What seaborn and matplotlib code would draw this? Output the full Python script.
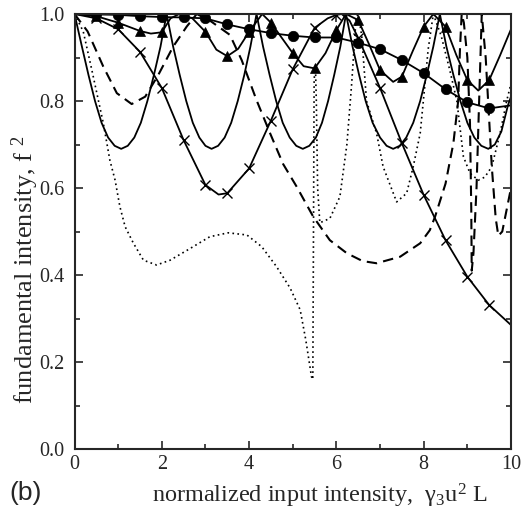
import matplotlib
matplotlib.use("Agg")
import matplotlib.pyplot as plt
import seaborn as sns

# plain solid curve
x_solid = [0.0, 0.17, 0.32, 0.47, 0.62, 0.77, 0.92, 1.07, 1.22, 1.37, 1.52, 1.67, 1.82, 1.97, 2.11,
           2.26, 2.41, 2.56, 2.71, 2.86, 3.0, 3.14, 3.29, 3.44, 3.59, 3.74, 3.89, 4.03, 4.17,
           4.32, 4.47, 4.62, 4.77, 4.93, 5.08, 5.23, 5.38, 5.53, 5.67, 5.81, 5.95, 6.09, 6.22,
           6.37, 6.52, 6.67, 6.83, 7.0, 7.15, 7.30, 7.45, 7.6, 7.76, 7.92, 8.07, 8.22, 8.37,
           8.52, 8.68, 8.84, 9.0, 9.16, 9.32, 9.48, 9.63, 9.78, 9.93, 10.0]
y_solid = [1.0, 0.925, 0.86, 0.80, 0.75, 0.716, 0.697, 0.69, 0.697, 0.716, 0.75, 0.80, 0.86, 0.925, 1.0,
           0.925, 0.86, 0.80, 0.75, 0.716, 0.697, 0.69, 0.697, 0.716, 0.75, 0.80, 0.86, 0.925, 1.0,
           0.925, 0.86, 0.80, 0.75, 0.716, 0.697, 0.69, 0.697, 0.716, 0.75, 0.80, 0.86, 0.925, 1.0,
           0.925, 0.86, 0.80, 0.75, 0.716, 0.697, 0.69, 0.697, 0.716, 0.75, 0.80, 0.86, 0.925, 1.0,
           0.925, 0.86, 0.80, 0.75, 0.716, 0.697, 0.69, 0.70, 0.73, 0.79, 0.81]

# solid with crosses
x_cross = [0.0, 0.5, 1.0, 1.5, 2.0, 2.5, 3.0, 3.3, 3.5, 4.0, 4.5, 5.0, 5.5, 5.8,
           6.0, 6.12, 6.3, 6.5, 7.0, 7.5, 8.0, 8.5, 9.0, 9.5, 10.0]
y_cross = [1.0, 0.99, 0.965, 0.913, 0.83, 0.71, 0.607, 0.585, 0.588, 0.645, 0.755,
           0.873, 0.968, 0.99, 0.998, 1.0, 0.985, 0.945, 0.83, 0.703, 0.584,
           0.48, 0.396, 0.331, 0.285]

# solid with triangles
x_tri = [0.0, 0.5, 1.0, 1.5, 1.75, 2.0, 2.2, 2.4, 2.7, 3.0, 3.25, 3.5, 3.75, 4.0,
         4.3, 4.5, 5.0, 5.25, 5.5, 5.75, 6.0, 6.22, 6.5, 6.75, 7.0, 7.3, 7.5,
         7.75, 8.0, 8.22, 8.5, 8.75, 9.0, 9.25, 9.5, 9.75, 10.0]
y_tri = [1.0, 0.995, 0.98, 0.961, 0.955, 0.958, 0.99, 1.0, 0.99, 0.959, 0.918,
         0.903, 0.92, 0.959, 1.0, 0.98, 0.91, 0.88, 0.875, 0.91, 0.963, 1.0,
         0.986, 0.93, 0.871, 0.844, 0.856, 0.915, 0.971, 1.0, 0.971, 0.905,
         0.848, 0.824, 0.848, 0.905, 0.965]

# solid with circles
x_circ = [0.0, 0.5, 1.0, 1.5, 2.0, 2.5, 3.0, 3.5, 4.0, 4.5, 5.0, 5.5, 6.0, 6.5,
          7.0, 7.5, 8.0, 8.5, 9.0, 9.5, 10.0]
y_circ = [1.0, 0.999, 0.998, 0.995, 0.993, 0.992, 0.99, 0.976, 0.965, 0.956,
          0.95, 0.946, 0.946, 0.934, 0.919, 0.894, 0.864, 0.827, 0.797, 0.783,
          0.79]

# dashed curve
x_dash = [0.0, 0.3, 0.66, 0.97, 1.31, 1.62, 1.92, 2.26, 2.57, 2.8, 3.1, 3.56,
          3.83, 4.17, 4.48, 4.78, 5.09, 5.47, 5.85, 6.24, 6.6, 6.92, 7.46, 7.92,
          8.14, 8.26, 8.5, 8.68, 8.79, 8.83, 8.87, 8.92, 9.0, 9.06, 9.09, 9.1,
          9.14, 9.21, 9.27, 9.33, 9.42, 9.56, 9.65, 9.71, 9.8, 9.9, 10.0]
y_dash = [1.0, 0.96, 0.879, 0.818, 0.793, 0.81, 0.86, 0.925, 0.971, 1.0, 0.985,
          0.952, 0.894, 0.802, 0.726, 0.655, 0.603, 0.534, 0.48, 0.45, 0.432,
          0.427, 0.442, 0.473, 0.503, 0.534, 0.61, 0.703, 0.80, 0.917, 1.0,
          0.98, 0.9, 0.75, 0.55, 0.41, 0.45, 0.6, 0.8, 1.0, 0.9, 0.649, 0.53,
          0.49, 0.5, 0.55, 0.6]

# dotted curve
x_dot = [0.0, 0.2, 0.4, 0.55, 0.66, 0.81, 0.93, 1.04, 1.16, 1.35, 1.58, 1.88,
         2.19, 2.65, 3.1, 3.52, 3.95, 4.29, 4.63, 4.94, 5.17, 5.3, 5.43, 5.46,
         5.475, 5.49, 5.52, 5.54, 5.57, 5.62, 5.85, 6.08, 6.24, 6.35, 6.45, 6.5,
         6.58, 6.69, 6.92, 7.07, 7.38, 7.61, 7.76, 7.92, 8.03, 8.1, 8.22, 8.4,
         8.6, 8.76, 8.91, 9.06, 9.25, 9.4, 9.56, 9.75, 9.9, 10.0]
y_dot = [1.0, 0.96, 0.87, 0.80, 0.749, 0.664, 0.618, 0.557, 0.511, 0.473, 0.434,
         0.423, 0.434, 0.461, 0.488, 0.497, 0.492, 0.465, 0.419, 0.37, 0.32,
         0.25, 0.166, 0.16, 0.5, 0.85, 0.88, 0.8, 0.6, 0.52, 0.53, 0.58, 0.70,
         0.84, 0.99, 1.0, 0.95, 0.80, 0.726, 0.649, 0.568, 0.588, 0.649, 0.726,
         0.84, 0.917, 1.0, 0.95, 0.87, 0.80, 0.672, 0.634, 0.618, 0.625, 0.649,
         0.726, 0.80, 0.84]

x_ticks = [0, 2, 4, 6, 8, 10]
y_ticks = [0.0, 0.2, 0.4, 0.6, 0.8, 1.0]


def half_steps(xs):
    # marker positions: every 0.5 inside the axis
    return [i for i, v in enumerate(xs) if 0 < v < 10 and abs(v * 2 - round(v * 2)) < 1e-9]


sns.set_style("ticks")
plt.rcParams['font.family'] = ['Liberation Serif', 'DejaVu Serif']
plt.rcParams['mathtext.fontset'] = 'custom'
plt.rcParams['mathtext.rm'] = 'Liberation Serif'
plt.rcParams['mathtext.it'] = 'Liberation Serif:italic'

fig = plt.figure(figsize=(5.32, 5.18), dpi=100)
ax = fig.add_axes([74.5 / 532, 1 - 449 / 518, 436.5 / 532, 435 / 518])

common = dict(ax=ax, color='k', sort=False, estimator=None)
sns.lineplot(x=x_solid, y=y_solid, lw=1.3, **common)
sns.lineplot(x=x_dash, y=y_dash, lw=1.5, linestyle=(0, (5, 3)), **common)
sns.lineplot(x=x_dot, y=y_dot, lw=1.2, linestyle=(0, (1, 2)), **common)
sns.lineplot(x=x_cross, y=y_cross, lw=1.3, marker='x', ms=7,
             markeredgecolor='k', markeredgewidth=1.0,
             markevery=half_steps(x_cross), **common)
sns.lineplot(x=x_tri, y=y_tri, lw=1.3, marker='^', ms=7.5,
             markerfacecolor='k', markeredgecolor='k', markeredgewidth=0.5,
             markevery=half_steps(x_tri), **common)
sns.lineplot(x=x_circ, y=y_circ, lw=1.3, marker='o', ms=7.5,
             markerfacecolor='k', markeredgecolor='k', markeredgewidth=0.5,
             markevery=half_steps(x_circ), **common)

ax.set_xlim(0, 10)
ax.set_ylim(0, 1.0)
ax.set_xticks(x_ticks)
ax.set_xticks([1, 3, 5, 7, 9], minor=True)
ax.set_yticks(y_ticks)
ax.set_yticks([0.1, 0.3, 0.5, 0.7, 0.9], minor=True)
ax.set_yticklabels([f"{v:.1f}" for v in y_ticks])
ax.tick_params(which='both', direction='in', top=True, right=True, width=1.2,
               labelsize=14.5)
ax.tick_params(which='major', length=6)
ax.tick_params(which='minor', length=3.5)
ax.tick_params(axis='x', pad=4)
ax.tick_params(axis='y', pad=7)
for s in ax.spines.values():
    s.set_linewidth(1.5)
ax.set_xlabel('')
ax.set_ylabel('')

fig.text(152 / 532, 1 - 503 / 518, r"normalized input intensity,  γ$_3$u$^2$ L",
         fontsize=17.5, ha='left', va='baseline')
fig.text(25 / 532, 1 - 270 / 518, r"fundamental intensity, f $^2$",
         fontsize=19, rotation=90, ha='center', va='center')
fig.text(9 / 532, 1 - 500 / 518, "(b)", fontsize=19, family='Liberation Sans',
         ha='left', va='baseline')

fig.savefig("out.png", dpi=100)
